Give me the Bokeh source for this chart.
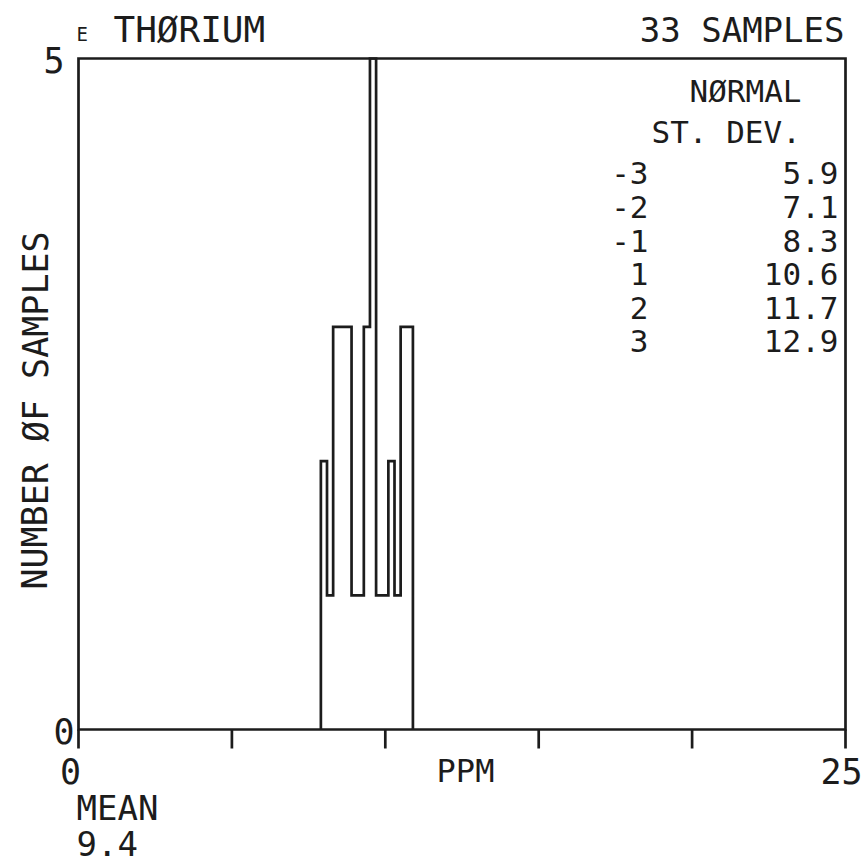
from bokeh.plotting import figure
from bokeh.models import Label, Range1d
from bokeh.embed import file_html
from bokeh.resources import INLINE

# ---- data ----
bin_left = [7.9, 8.1, 8.3, 8.5, 8.7, 8.9, 9.1, 9.3, 9.5, 9.7, 9.9, 10.1, 10.3, 10.5, 10.7]
bin_width = 0.2
counts = [2, 1, 3, 3, 3, 1, 1, 3, 5, 1, 1, 2, 1, 3, 3]
x_ticks = [0, 5, 10, 15, 20, 25]
x_tick_labels = ["0", "25"]
y_tick_labels = ["0", "5"]
std_steps = ["-3", "-2", "-1", "1", "2", "3"]
std_values = ["5.9", "7.1", "8.3", "10.6", "11.7", "12.9"]
element = "THØRIUM"
n_samples = "33 SAMPLES"
mean_value = "9.4"

X0, X1 = 0, 25
Y0, Y1 = 0, 5

# page geometry (pixels): the plotting box occupies FL..FR, FT..FB
W, H = 866, 868
FL, FR, FT, FB = 78, 845, 58, 729
SX = (FR - FL) / (X1 - X0)
SY = (FB - FT) / (Y1 - Y0)

def dx(px):
    return X0 + (px - FL) / SX

def dy(py):
    return Y0 + (FB - py) / SY

p = figure(width=W, height=H, output_backend="svg", toolbar_location=None,
           x_range=Range1d(dx(0), dx(W)), y_range=Range1d(dy(H), dy(0)),
           x_axis_type=None, y_axis_type=None, title=None,
           min_border=0, min_border_left=0, min_border_right=0,
           min_border_top=0, min_border_bottom=0)
p.background_fill_color = "white"
p.border_fill_color = "white"
p.outline_line_color = None
p.grid.visible = False

COL = "#1c1c1c"
LW = 2.7

# plotting box
p.quad(left=[X0], right=[X1], bottom=[Y0], top=[Y1], fill_color=None,
       line_color=COL, line_width=LW, line_join="miter")

# x ticks (pointing down, outside)
tick_len = 19 / SY
p.segment(x0=x_ticks, y0=[Y0] * len(x_ticks), x1=x_ticks,
          y1=[Y0 - tick_len] * len(x_ticks), line_color=COL, line_width=LW)

# histogram outline (step)
xs, ys = [bin_left[0]], [0]
for left, c in zip(bin_left, counts):
    xs += [left, left + bin_width]
    ys += [c, c]
xs.append(bin_left[-1] + bin_width)
ys.append(0)
p.line(xs, ys, line_color=COL, line_width=LW, line_join="miter")

FONT = "DejaVu Sans Mono"

def lab(text, px, py, size, align="left", angle=0.0):
    # py is the vertical centre of the text
    p.add_layout(Label(x=dx(px), y=dy(py), text=text, text_font=FONT,
                       text_font_size=f"{size}px", text_color=COL,
                       text_align=align, text_baseline="middle", angle=angle))

# title row
lab("E", 76, 33, 19)
lab(element, 113, 29, 36)
lab(n_samples, 844, 29, 34, align="right")

# y axis labels
lab(y_tick_labels[1], 64, 59, 35, align="right")
lab(y_tick_labels[0], 74, 730, 35, align="right")
lab("NUMBER ØF SAMPLES", 35, 410, 35, align="center", angle=1.5707963)

# x axis labels
lab(x_tick_labels[0], 70, 770, 35, align="center")
lab("PPM", 465, 770, 32, align="center")
lab(x_tick_labels[1], 841, 770, 35, align="center")
lab("MEAN", 76, 807, 34)
lab(mean_value, 76, 843, 34)

# normal st. dev. table
lab("NØRMAL", 689, 90, 31)
lab("ST. DEV.", 651, 131, 31)
row_mid = [172, 206, 240, 273, 307, 340]
for s, v, ym in zip(std_steps, std_values, row_mid):
    lab(s, 648, ym, 31, align="right")
    lab(v, 838, ym, 31, align="right")

open("out.html", "w").write(file_html(p, INLINE))
